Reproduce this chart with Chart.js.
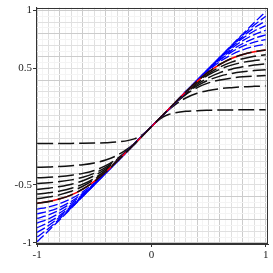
<!DOCTYPE html>
<html><head><meta charset="utf-8">
<script src="https://cdn.jsdelivr.net/npm/chart.js@4"></script>
<style>html,body{margin:0;padding:0;background:#fff}canvas{display:block}</style>
</head><body>
<canvas id="c" width="273" height="273"></canvas>
<script>
const xs = [-1,-0.9,-0.8,-0.7,-0.6,-0.5,-0.4,-0.3,-0.2,-0.15,-0.1,-0.05,0,0.05,0.1,0.15,0.2,0.3,0.4,0.5,0.6,0.7,0.8,0.9,1];

const black1 = [-0.145,-0.145,-0.145,-0.144,-0.143,-0.141,-0.138,-0.132,-0.118,-0.105,-0.083,-0.047,0,0.047,0.083,0.105,0.118,0.132,0.138,0.141,0.143,0.144,0.145,0.145,0.145];
const black2 = [-0.35,-0.347,-0.343,-0.336,-0.327,-0.312,-0.287,-0.247,-0.184,-0.144,-0.098,-0.05,0,0.05,0.098,0.144,0.184,0.247,0.287,0.312,0.327,0.336,0.343,0.347,0.35];
const black3 = [-0.44,-0.436,-0.429,-0.418,-0.402,-0.377,-0.336,-0.276,-0.195,-0.148,-0.1,-0.05,0,0.05,0.1,0.148,0.195,0.276,0.336,0.377,0.402,0.418,0.429,0.436,0.44];
const black4 = [-0.49,-0.483,-0.473,-0.458,-0.435,-0.401,-0.351,-0.282,-0.196,-0.149,-0.1,-0.05,0,0.05,0.1,0.149,0.196,0.282,0.351,0.401,0.435,0.458,0.473,0.483,0.49];
const black5 = [-0.54,-0.53,-0.515,-0.495,-0.465,-0.422,-0.363,-0.287,-0.197,-0.149,-0.1,-0.05,0,0.05,0.1,0.149,0.197,0.287,0.363,0.422,0.465,0.495,0.515,0.53,0.54];
const black6 = [-0.58,-0.569,-0.554,-0.53,-0.495,-0.445,-0.377,-0.293,-0.199,-0.15,-0.1,-0.05,0,0.05,0.1,0.15,0.199,0.293,0.377,0.445,0.495,0.53,0.554,0.569,0.58];
const black7 = [-0.62,-0.606,-0.585,-0.556,-0.513,-0.456,-0.382,-0.295,-0.199,-0.15,-0.1,-0.05,0,0.05,0.1,0.15,0.199,0.295,0.382,0.456,0.513,0.556,0.585,0.606,0.62];

const redCurve = [-0.66,-0.645,-0.621,-0.587,-0.537,-0.471,-0.39,-0.298,-0.2,-0.15,-0.1,-0.05,0,0.05,0.1,0.15,0.2,0.298,0.39,0.471,0.537,0.587,0.621,0.645,0.66];

const blue1 = [-0.71,-0.691,-0.662,-0.619,-0.56,-0.484,-0.395,-0.299,-0.2,-0.15,-0.1,-0.05,0,0.05,0.1,0.15,0.2,0.299,0.395,0.484,0.56,0.619,0.662,0.691,0.71];
const blue2 = [-0.75,-0.728,-0.693,-0.642,-0.574,-0.491,-0.397,-0.3,-0.2,-0.15,-0.1,-0.05,0,0.05,0.1,0.15,0.2,0.3,0.397,0.491,0.574,0.642,0.693,0.728,0.75];
const blue3 = [-0.79,-0.76,-0.716,-0.657,-0.581,-0.493,-0.398,-0.3,-0.2,-0.15,-0.1,-0.05,0,0.05,0.1,0.15,0.2,0.3,0.398,0.493,0.581,0.657,0.716,0.76,0.79];
const blue4 = [-0.83,-0.793,-0.741,-0.672,-0.589,-0.497,-0.399,-0.3,-0.2,-0.15,-0.1,-0.05,0,0.05,0.1,0.15,0.2,0.3,0.399,0.497,0.589,0.672,0.741,0.793,0.83];
const blue5 = [-0.87,-0.824,-0.762,-0.684,-0.594,-0.498,-0.4,-0.3,-0.2,-0.15,-0.1,-0.05,0,0.05,0.1,0.15,0.2,0.3,0.4,0.498,0.594,0.684,0.762,0.824,0.87];
const blue6 = [-0.91,-0.851,-0.776,-0.69,-0.597,-0.499,-0.4,-0.3,-0.2,-0.15,-0.1,-0.05,0,0.05,0.1,0.15,0.2,0.3,0.4,0.499,0.597,0.69,0.776,0.851,0.91];
const blue7 = [-0.95,-0.876,-0.79,-0.697,-0.599,-0.5,-0.4,-0.3,-0.2,-0.15,-0.1,-0.05,0,0.05,0.1,0.15,0.2,0.3,0.4,0.5,0.599,0.697,0.79,0.876,0.95];
const blue8 = [-0.99,-0.896,-0.799,-0.7,-0.6,-0.5,-0.4,-0.3,-0.2,-0.15,-0.1,-0.05,0,0.05,0.1,0.15,0.2,0.3,0.4,0.5,0.6,0.7,0.799,0.896,0.99];

const blackSeries = [black1, black2, black3, black4, black5, black6, black7];
const blueSeries = [blue1, blue2, blue3, blue4, blue5, blue6, blue7, blue8];

const xTickLabels = [-1, 0, 1];
const yTickLabels = [-1, -0.5, 0.5, 1];

function pts(ys){ return xs.map((x,i)=>({x:x, y:ys[i]})); }
function base(ys, color, width, dash){
  return {data: pts(ys), borderColor: color, borderWidth: width, borderDash: dash,
    pointRadius: 0, fill: false, cubicInterpolationMode: 'monotone', borderCapStyle: 'butt'};
}

// index 0 is drawn on top
const datasets = [];
datasets.push(base(redCurve, '#111111', 1.6, [16,5]));
datasets.push(base(redCurve, '#ff0000', 1.5, []));
blueSeries.forEach(s => datasets.push(base(s, '#0000ff', 1.3, [9,3])));
blackSeries.forEach(s => datasets.push(base(s, '#111111', 1.5, [16,5])));

function isLabel(v, list){ return list.some(L => Math.abs(v - L) < 1e-9); }
function gridTicks(scale){
  const t = [];
  for (let i = -20; i <= 20; i++) t.push({value: i/20});
  scale.ticks = t;
}
function gridColor(ctx){
  const t = Math.round(ctx.tick.value * 20);
  if (t % 4 === 0) return '#cccccc';
  if (t % 2 === 0) return '#e0e0e0';
  return '#f4f4f4';
}
const tickFont = {family: '"Liberation Serif", "DejaVu Serif", serif', size: 11};

const frame = {
  id: 'frame',
  afterDraw(chart){
    const a = chart.chartArea, c = chart.ctx;
    c.save();
    c.strokeStyle = '#333';
    c.lineWidth = 1;
    c.strokeRect(Math.round(a.left) + 0.5, Math.round(a.top) + 0.5, Math.round(a.right - a.left) - 1, Math.round(a.bottom - a.top) - 1);
    c.restore();
  }
};

new Chart(document.getElementById('c'), {
  type: 'line',
  data: {datasets: datasets},
  options: {
    responsive: false, animation: false, devicePixelRatio: 1,
    layout: {padding: {top: 6, right: 5, left: 0, bottom: 0}},
    plugins: {legend: {display: false}, tooltip: {enabled: false}},
    scales: {
      x: {
        type: 'linear', min: -1.01, max: 1.02,
        afterBuildTicks: gridTicks,
        afterFit: s => { s.height = 29; },
        grid: {color: gridColor, lineWidth: 1, tickLength: 3,
          tickColor: ctx => isLabel(ctx.tick.value, xTickLabels) ? '#333' : 'rgba(0,0,0,0)'},
        border: {display: true, color: '#333', width: 1},
        ticks: {autoSkip: false, maxRotation: 0, padding: 2, color: '#222', font: tickFont,
          callback: v => isLabel(v, xTickLabels) ? String(Math.round(v*10)/10) : ''}
      },
      y: {
        type: 'linear', min: -1.01, max: 1.025,
        afterBuildTicks: gridTicks,
        afterFit: s => { s.width = 36; },
        grid: {color: gridColor, lineWidth: 1, tickLength: 3,
          tickColor: ctx => isLabel(ctx.tick.value, yTickLabels) ? '#333' : 'rgba(0,0,0,0)'},
        border: {display: true, color: '#333', width: 1},
        ticks: {autoSkip: false, padding: 1, color: '#222', font: tickFont,
          callback: v => isLabel(v, yTickLabels) ? String(Math.round(v*10)/10) : ''}
      }
    }
  },
  plugins: [frame]
});
</script>
</body></html>
